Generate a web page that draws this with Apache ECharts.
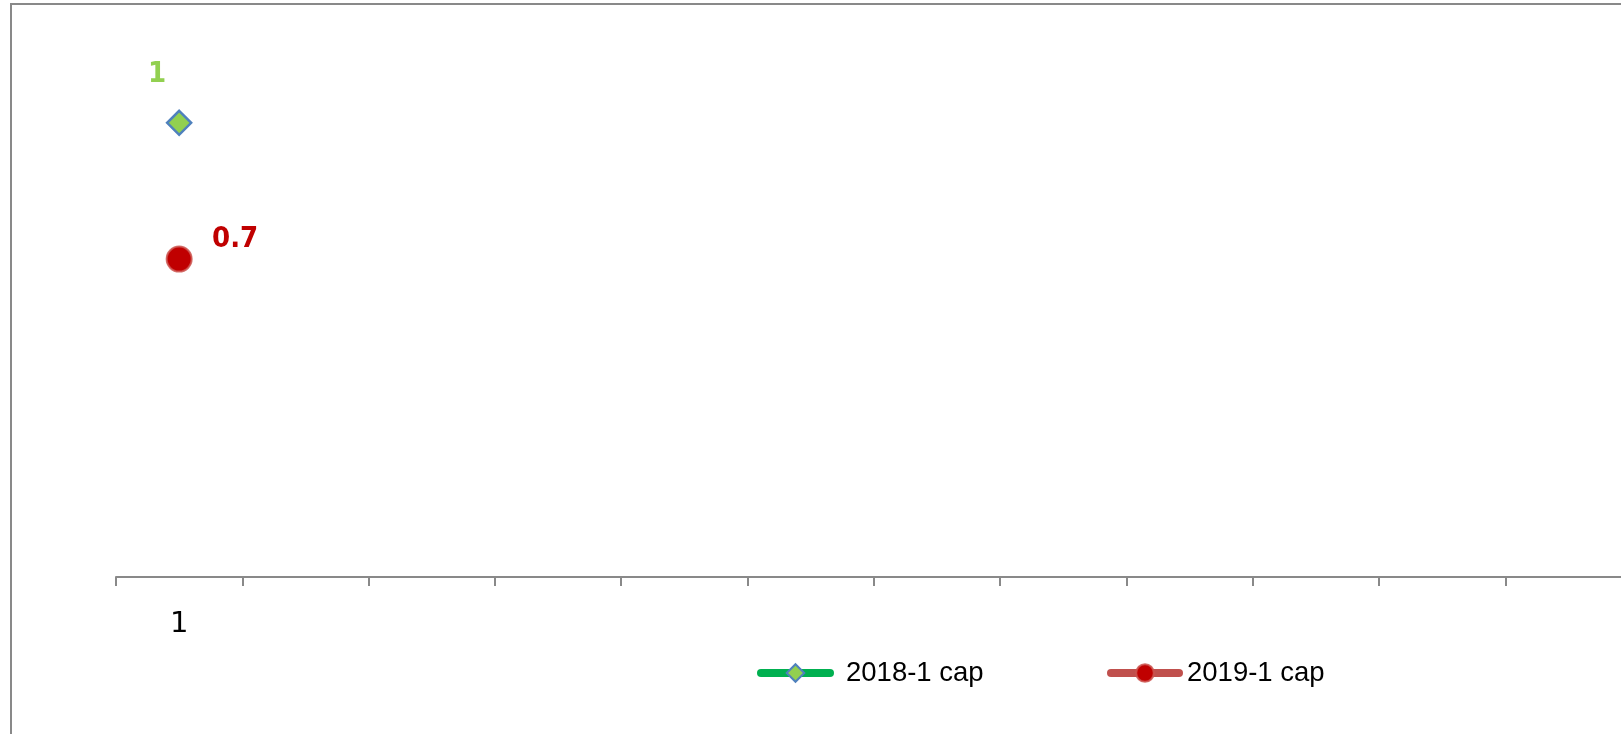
<!DOCTYPE html>
<html>
<head>
<meta charset="utf-8">
<script src="https://cdn.jsdelivr.net/npm/echarts@6/dist/echarts.min.js"></script>
<style>
html,body{margin:0;padding:0;background:#fff;}
#chart{width:1621px;height:734px;}
</style>
</head>
<body>
<div id="chart"></div>
<script>
var categories = ['1', '', '', '', '', '', '', '', '', '', '', '', ''];
var seriesNames = ['2018-1 cap', '2019-1 cap'];
var cap2018 = [1];
var cap2019 = [0.7];

var labelFont = '"DejaVu Sans Condensed", "DejaVu Sans", sans-serif';
var chart = echarts.init(document.getElementById('chart'), null, {renderer: 'canvas'});
var option = {
  backgroundColor: '#ffffff',
  animation: false,
  graphic: [{
    type: 'rect',
    z: -10,
    shape: {x: 11, y: 4, width: 2000, height: 2000},
    style: {fill: 'none', stroke: '#898989', lineWidth: 2}
  }],
  grid: {left: 116, top: 32, width: 1642, height: 545, containLabel: false, outerBoundsMode: 'none'},
  xAxis: {
    type: 'category',
    data: categories,
    boundaryGap: true,
    axisLine: {show: true, lineStyle: {color: '#898989', width: 2}},
    axisTick: {show: true, length: 9, lineStyle: {color: '#898989', width: 2}},
    axisLabel: {interval: 0, margin: 33, color: '#000', fontFamily: 'DejaVu Sans', fontSize: 29},
    splitLine: {show: false}
  },
  yAxis: {
    type: 'value',
    min: 0,
    max: 1.2,
    show: false,
    splitLine: {show: false}
  },
  legend: [{
    data: [seriesNames[0]],
    left: 757,
    top: 659,
    padding: 0,
    itemWidth: 69,
    itemHeight: 22,
    itemGap: 0,
    textStyle: {fontFamily: 'Liberation Sans', fontSize: 27.5, color: '#000', padding: [0, 0, 0, 11]},
    lineStyle: {width: 8, cap: 'round'}
  }, {
    data: [seriesNames[1]],
    left: 1107,
    top: 659,
    padding: 0,
    itemWidth: 68,
    itemHeight: 22,
    itemGap: 0,
    textStyle: {fontFamily: 'Liberation Sans', fontSize: 27.5, color: '#000', padding: [0, 0, 0, 3]},
    lineStyle: {width: 8, cap: 'round'}
  }],
  series: [{
    name: seriesNames[0],
    type: 'line',
    data: cap2018,
    symbol: 'diamond',
    symbolSize: 24,
    lineStyle: {color: '#00B050', width: 8, cap: 'round'},
    itemStyle: {color: '#92D050', borderColor: '#4F81BD', borderWidth: 2.5},
    label: {
      show: true, position: 'inside', offset: [-22, -48],
      color: '#92D050', fontFamily: labelFont, fontWeight: 'bold', fontSize: 29
    },
    z: 3
  }, {
    name: seriesNames[1],
    type: 'line',
    data: cap2019,
    symbol: 'circle',
    symbolSize: 25,
    lineStyle: {color: '#C0504D', width: 8, cap: 'round'},
    itemStyle: {color: '#C00000', borderColor: 'rgba(205,85,80,0.85)', borderWidth: 2},
    label: {
      show: true, position: 'inside', offset: [56, -20],
      color: '#C00000', fontFamily: labelFont, fontWeight: 'bold', fontSize: 29
    },
    z: 3
  }]
};
chart.setOption(option);
</script>
</body>
</html>
